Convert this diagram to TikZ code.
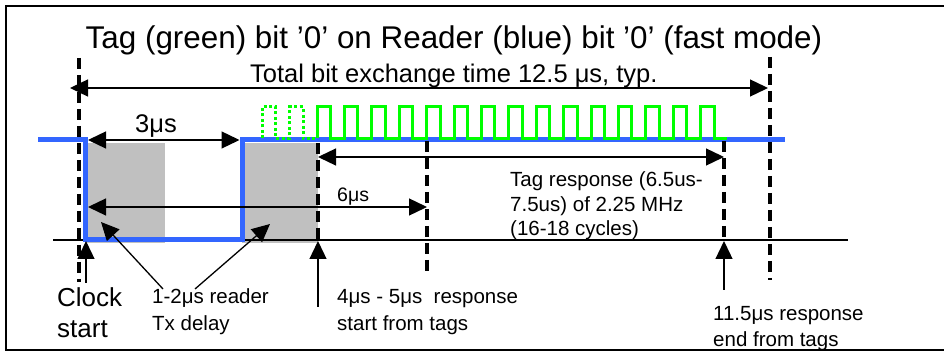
\documentclass[tikz,border=0pt]{standalone}
\usepackage{fontspec}
\setmainfont{Liberation Sans}
\usetikzlibrary{arrows.meta}
\definecolor{rblue}{RGB}{51,102,255}
\definecolor{tgreen}{RGB}{0,255,0}
\definecolor{greyfill}{RGB}{192,192,192}
\tikzset{
  tip/.tip={Triangle[length=18pt,width=17pt]},
  dim/.style={line width=1.3pt, tip-tip},
  ptr/.style={line width=1.3pt, -tip},
  guide/.style={line width=3.5pt, dash pattern=on 11pt off 6pt},
  reader/.style={line width=5pt, draw=rblue, line join=miter},
  tagwave/.style={line width=3pt, draw=tgreen, line join=miter},
  tagdot/.style={tagwave, dash pattern=on 3pt off 2.5pt},
  delaybox/.style={fill=greyfill},
  lbl/.style={anchor=base west, inner sep=0pt, font=\fontsize{20.5}{24.6}\selectfont},
  big/.style={anchor=base west, inner sep=0pt, font=\fontsize{25.5}{30}\selectfont},
}
\begin{document}
\begin{tikzpicture}[x=1pt,y=-1pt]
\useasboundingbox (0,0) rectangle (944,352);
% frame (right side cropped)
\draw[line width=2pt] (944,6) -- (6,6) -- (6,350) -- (944,350);
% shaded delay areas
\path[delaybox] (85,143) rectangle (165,243);
\path[delaybox] (242,143) rectangle (318,243);
% time axis
\coordinate (axL) at (53,240);
\coordinate (axR) at (848,240);
\draw[line width=1.3pt] (axL) -- (axR);
% reader waveform
\draw[reader] (38,140) -- (85,140) -- (85,240) -- (242,240) -- (242,140) -- (785,140);
% tag waveform
\draw[tagdot] (262.2,138.5) -- (262.2,107) -- (275.7,107) -- (275.7,138.5) -- (289.6,138.5) -- (289.6,107) -- (303.1,107) -- (303.1,138.5) -- (317,138.5);
\draw[tagwave] (317,138.5) \foreach \k in {0,...,14} { -- ({317+27.4*\k},138.5) -- ({317+27.4*\k},107) -- ({330.5+27.4*\k},107) -- ({330.5+27.4*\k},138.5) } -- (727,138.5);
% guide lines
\coordinate (g1a) at (79,58);  \coordinate (g1b) at (79,282);
\coordinate (g2a) at (770,57); \coordinate (g2b) at (770,280);
\coordinate (g3a) at (318,143); \coordinate (g3b) at (318,240);
\coordinate (g4a) at (427,141); \coordinate (g4b) at (427,273);
\coordinate (g5a) at (724,141); \coordinate (g5b) at (724,240);
\draw[guide] (g1a) -- (g1b);
\draw[guide] (g2a) -- (g2b);
\draw[guide] (g3a) -- (g3b);
\draw[guide] (g4a) -- (g4b);
\draw[guide] (g5a) -- (g5b);
% dimension arrows
\coordinate (totL) at (70,88);  \coordinate (totR) at (768,88);
\coordinate (d3L) at (88,140);  \coordinate (d3R) at (239.5,140);
\coordinate (rsL) at (318,157); \coordinate (rsR) at (724,157);
\coordinate (d6L) at (88,207);  \coordinate (d6R) at (427,207);
\draw[dim] (totL) -- (totR);
\draw[dim] (d3L) -- (d3R);
\draw[dim] (rsL) -- (rsR);
\draw[dim] (d6L) -- (d6R);
% pointer arrows
\coordinate (ckA) at (86,283);  \coordinate (ckB) at (86,241);
\coordinate (stA) at (318,307); \coordinate (stB) at (318,241);
\coordinate (enA) at (724,290); \coordinate (enB) at (724,241);
\coordinate (dlA) at (163,289); \coordinate (dlB) at (101,222);
\coordinate (drA) at (195,289); \coordinate (drB) at (270,224);
\draw[ptr] (ckA) -- (ckB);
\draw[ptr] (stA) -- (stB);
\draw[ptr] (enA) -- (enB);
\draw[ptr] (dlA) -- (dlB);
\draw[ptr] (drA) -- (drB);
% texts
\node[anchor=base, inner sep=0pt, font=\fontsize{31.4}{36}\selectfont] (title) at (454,49) {Tag (green) bit ’0’ on Reader (blue) bit ’0’ (fast mode)};
\node[big] (total) at (250,83) {Total bit exchange time 12.5 μs, typ.};
\node[big] (t3) at (135,133) {3μs};
\node[lbl, font=\fontsize{19.5}{23}\selectfont] (t6) at (337,202) {6μs};
\node[lbl] (tr1) at (510,187) {Tag response (6.5us-};
\node[lbl] (tr2) at (510,211.5) {7.5us) of 2.25 MHz};
\node[lbl] (tr3) at (510,236) {(16-18 cycles)};
\node[anchor=base west, inner sep=0pt, font=\fontsize{26}{30}\selectfont] (ck1) at (57,307) {Clock};
\node[anchor=base west, inner sep=0pt, font=\fontsize{26}{30}\selectfont] (ck2) at (57,337) {start};
\node[lbl] (dl1) at (152,304) {1-2μs reader};
\node[lbl] (dl2) at (152,330) {Tx delay};
\node[lbl] (st1) at (337,304) {4μs - 5μs\ \ response};
\node[lbl] (st2) at (337,330) {start from tags};
\node[lbl] (en1) at (713,320) {11.5μs response};
\node[lbl] (en2) at (713,346) {end from tags};
\end{tikzpicture}
\end{document}
